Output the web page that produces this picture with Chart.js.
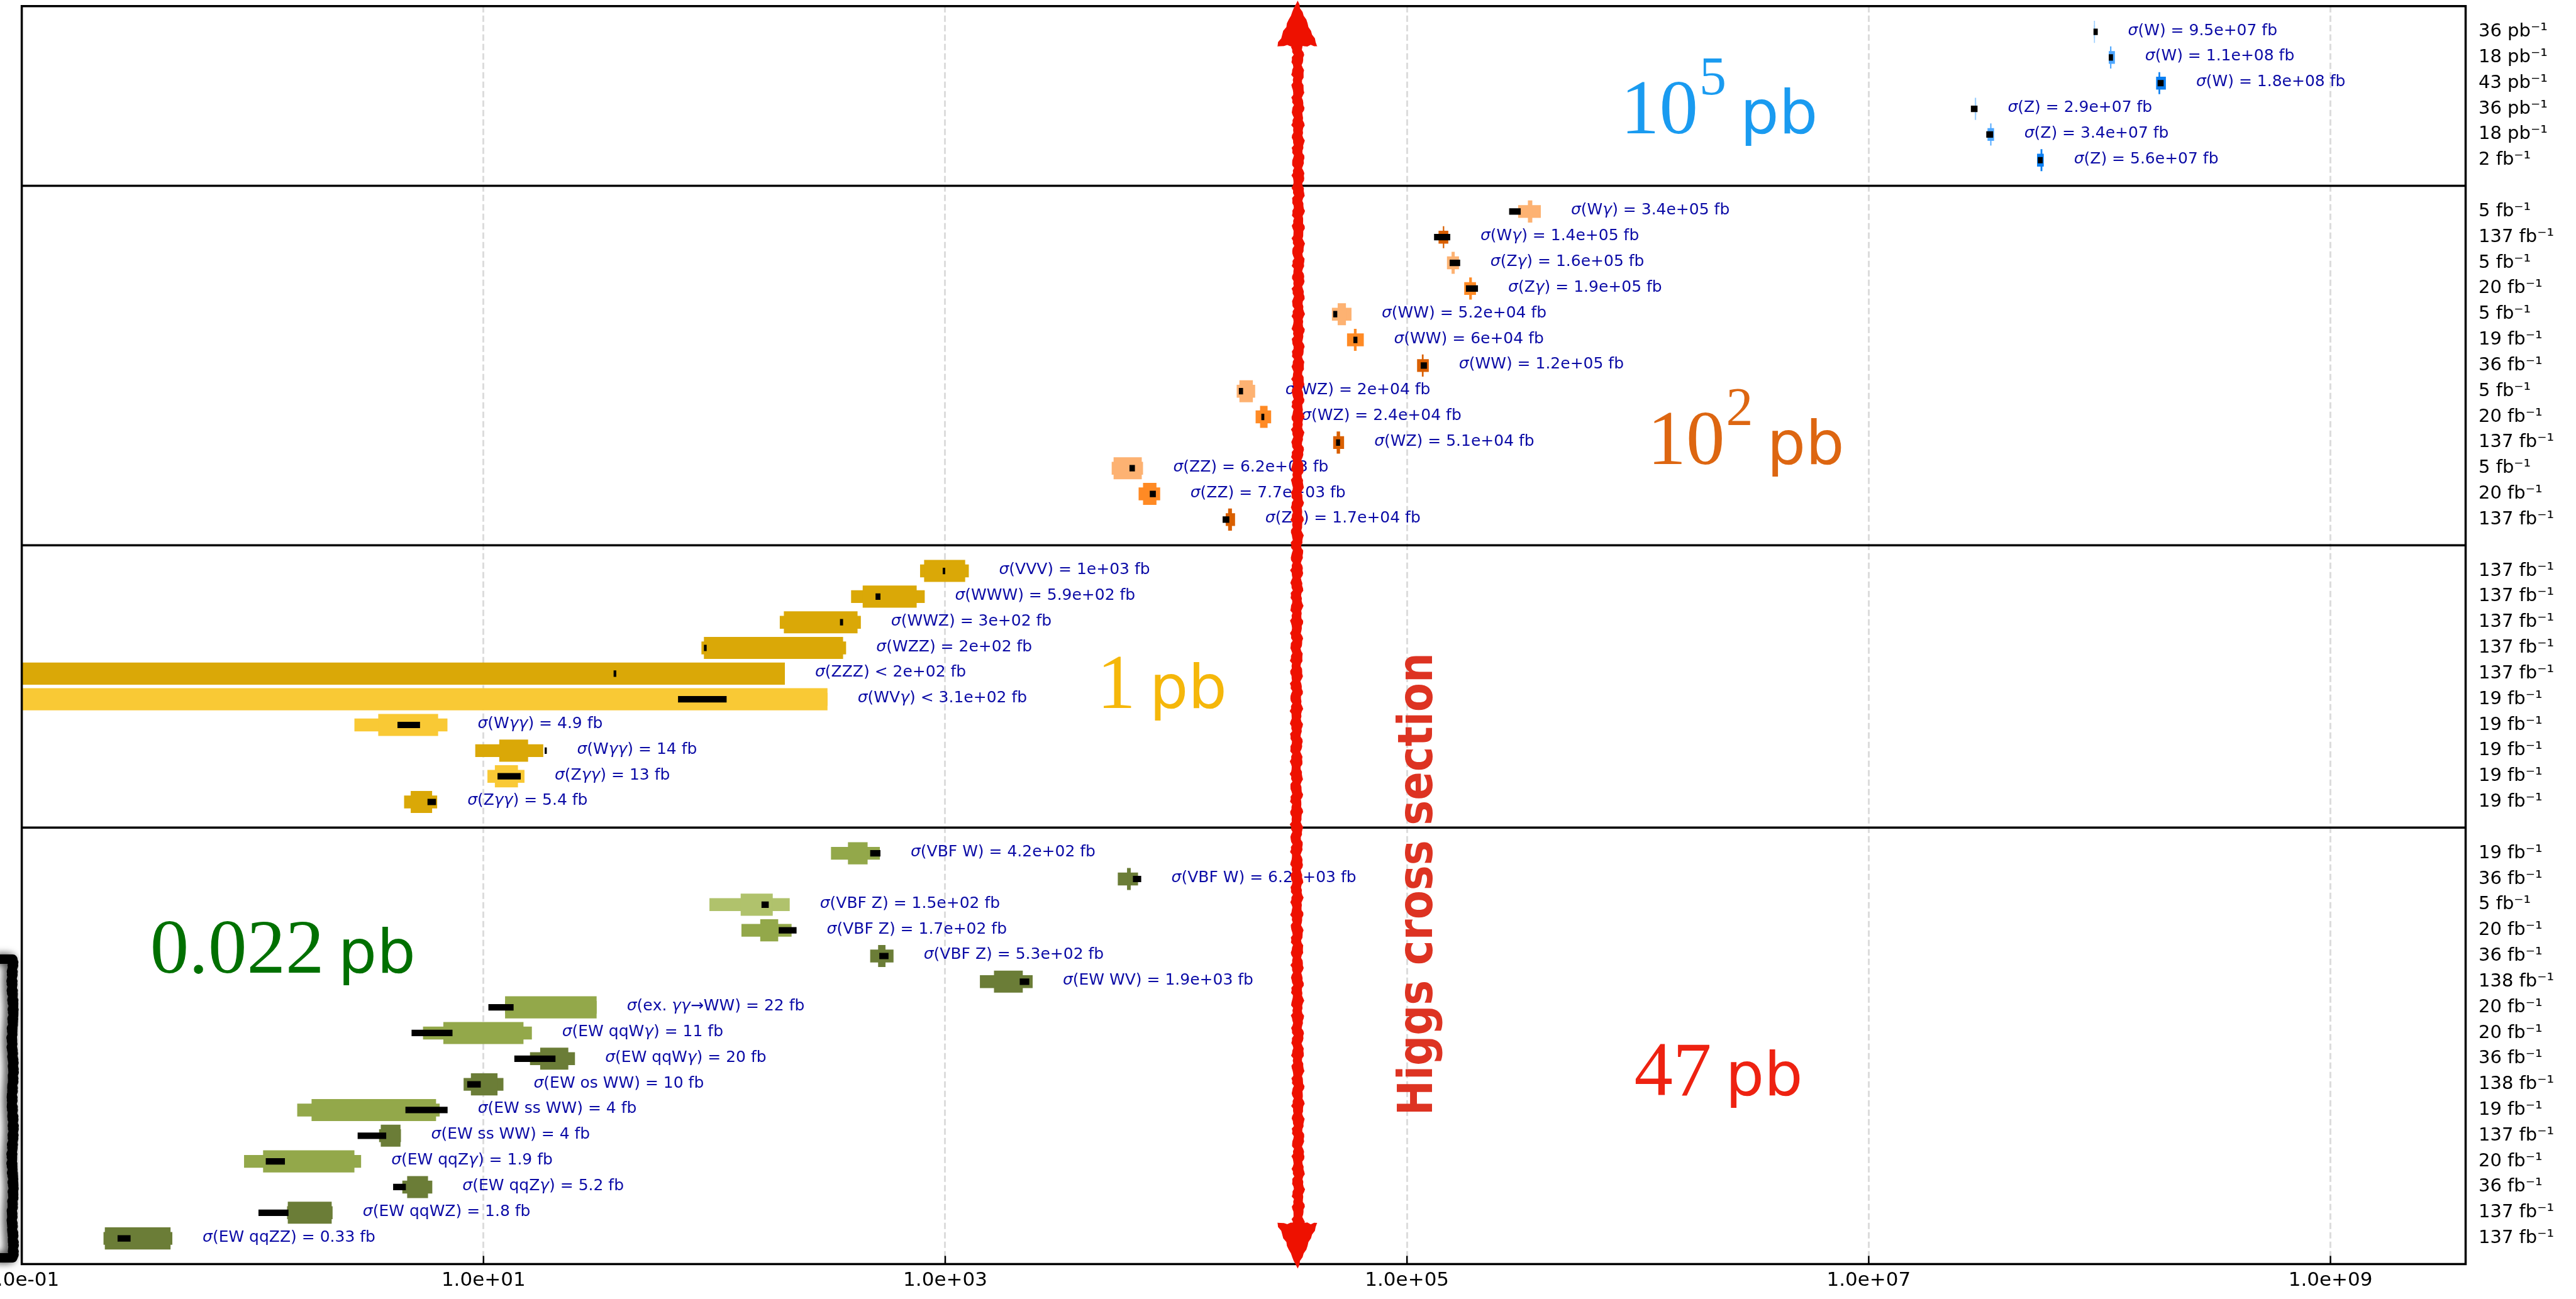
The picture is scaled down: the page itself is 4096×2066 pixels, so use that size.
<!DOCTYPE html>
<html>
<head>
<meta charset="utf-8">
<script src="https://cdn.jsdelivr.net/npm/chart.js@4.4.1/dist/chart.umd.min.js"></script>
<style>
  html, body { margin: 0; padding: 0; background: #fff; }
  canvas { display: block; }
</style>
</head>
<body>
<canvas id="xsecChart" width="4096" height="2066"></canvas>
<script>
// Rows top to bottom, grouped in panels (W/Z, dibosons, tribosons, VBF/VBS)
const panelSizes = [6, 13, 10, 16];

const processes = [
  "W", "W", "W", "Z", "Z", "Z",
  "Wγ", "Wγ", "Zγ", "Zγ", "WW", "WW", "WW", "WZ", "WZ", "WZ", "ZZ", "ZZ", "ZZ",
  "VVV", "WWW", "WWZ", "WZZ", "ZZZ", "WVγ", "Wγγ", "Wγγ", "Zγγ", "Zγγ",
  "VBF W", "VBF W", "VBF Z", "VBF Z", "VBF Z", "EW WV", "ex. γγ→WW", "EW qqWγ", "EW qqWγ",
  "EW os WW", "EW ss WW", "EW ss WW", "EW qqZγ", "EW qqZγ", "EW qqWZ", "EW qqZZ"
];

// quoted cross sections in fb
const xsecValues = [
  9.5e7, 1.1e8, 1.8e8, 2.9e7, 3.4e7, 5.6e7,
  3.4e5, 1.4e5, 1.6e5, 1.9e5, 5.2e4, 6e4, 1.2e5, 2e4, 2.4e4, 5.1e4, 6.2e3, 7.7e3, 1.7e4,
  1e3, 590, 300, 200, 200, 310, 4.9, 14, 13, 5.4,
  420, 6200, 150, 170, 530, 1900, 22, 11, 20, 10, 4, 4, 1.9, 5.2, 1.8, 0.33
];

const upperLimit = [
  false, false, false, false, false, false,
  false, false, false, false, false, false, false, false, false, false, false, false, false,
  false, false, false, false, true, true, false, false, false, false,
  false, false, false, false, false, false, false, false, false, false, false, false, false, false, false, false
];

const lumiLabels = [
  "36 pb⁻¹", "18 pb⁻¹", "43 pb⁻¹", "36 pb⁻¹", "18 pb⁻¹", "2 fb⁻¹",
  "5 fb⁻¹", "137 fb⁻¹", "5 fb⁻¹", "20 fb⁻¹", "5 fb⁻¹", "19 fb⁻¹", "36 fb⁻¹", "5 fb⁻¹", "20 fb⁻¹",
  "137 fb⁻¹", "5 fb⁻¹", "20 fb⁻¹", "137 fb⁻¹",
  "137 fb⁻¹", "137 fb⁻¹", "137 fb⁻¹", "137 fb⁻¹", "137 fb⁻¹", "19 fb⁻¹", "19 fb⁻¹", "19 fb⁻¹", "19 fb⁻¹", "19 fb⁻¹",
  "19 fb⁻¹", "36 fb⁻¹", "5 fb⁻¹", "20 fb⁻¹", "36 fb⁻¹", "138 fb⁻¹", "20 fb⁻¹", "20 fb⁻¹", "36 fb⁻¹",
  "138 fb⁻¹", "19 fb⁻¹", "137 fb⁻¹", "20 fb⁻¹", "36 fb⁻¹", "137 fb⁻¹", "137 fb⁻¹"
];

// 0 = light, 1 = medium, 2 = dark shade of the panel colour
const shade = [
  0, 1, 2, 0, 1, 2,
  0, 2, 0, 1, 0, 1, 2, 0, 1, 2, 0, 1, 2,
  2, 2, 2, 2, 2, 0, 0, 2, 0, 2,
  1, 2, 0, 1, 2, 2, 1, 1, 2, 2, 1, 2, 1, 2, 2, 2
];

// tall, narrow box [lo, hi] in fb
const innerBand = [
  [9.45e7, 9.55e7], [1.11e8, 1.125e8], [1.80e8, 1.83e8], [2.88e7, 2.92e7], [3.36e7, 3.40e7], [5.55e7, 5.65e7],
  [3.34e5, 3.49e5], [1.43e5, 1.45e5], [1.56e5, 1.61e5], [1.86e5, 1.91e5], [5.01e4, 5.44e4], [5.89e4, 6.05e4],
  [1.16e5, 1.18e5], [1.88e4, 2.15e4], [2.31e4, 2.49e4], [4.96e4, 5.13e4], [5.36e3, 7.10e3], [7.19e3, 8.22e3], [1.68e4, 1.745e4],
  [810, 1220], [439, 752], [200, 417], [90.1, 361], [0.1, 202], [0.1, 309], [3.50, 6.36], [11.7, 15.6], [11.2, 14.1], [4.84, 5.99],
  [379, 461], [6130, 6360], [130, 179], [158, 189], [512, 551], [1626, 2167], [12.4, 30.9], [6.70, 14.9], [17.6, 23.3],
  [8.82, 11.5], [1.80, 6.23], [3.59, 4.37], [1.11, 2.76], [4.67, 5.75], [1.42, 2.20], [0.229, 0.441]
];

// thin, wide bar [lo, hi] in fb
const outerBand = [
  [9.45e7, 9.55e7], [1.096e8, 1.165e8], [1.757e8, 1.937e8], [2.88e7, 2.92e7], [3.27e7, 3.49e7], [5.36e7, 5.73e7],
  [3.03e5, 3.80e5], [1.37e5, 1.51e5], [1.49e5, 1.68e5], [1.77e5, 1.99e5], [4.73e4, 5.75e4], [5.50e4, 6.50e4],
  [1.106e5, 1.243e5], [1.83e4, 2.20e4], [2.21e4, 2.58e4], [4.79e4, 5.34e4], [5.26e3, 7.19e3], [6.88e3, 8.53e3], [1.64e4, 1.80e4],
  [778, 1265], [391, 815], [192, 431], [87.9, 372], [0.1, 202], [0.1, 309], [2.76, 6.98], [9.21, 18.15], [10.4, 15.05], [4.53, 6.30],
  [320, 521], [5590, 6840], [95.2, 212], [131, 216], [473, 597], [1413, 2391], [12.4, 30.9], [5.47, 16.2], [15.9, 24.9],
  [8.2, 12.2], [1.56, 6.46], [3.53, 4.39], [0.918, 2.95], [4.45, 6.0], [1.41, 2.22], [0.226, 0.449]
];

// black marker [lo, hi] in fb
const prediction = [
  [9.41e7, 9.82e7], [1.096e8, 1.143e8], [1.784e8, 1.894e8], [2.77e7, 2.96e7], [3.23e7, 3.46e7], [5.40e7, 5.67e7],
  [2.77e5, 3.11e5], [1.31e5, 1.54e5], [1.53e5, 1.70e5], [1.80e5, 2.03e5], [4.79e4, 4.99e4], [5.86e4, 6.10e4],
  [1.147e5, 1.22e5], [1.87e4, 1.95e4], [2.34e4, 2.41e4], [4.93e4, 5.13e4], [6.28e3, 6.63e3], [7.69e3, 8.17e3], [1.59e4, 1.70e4],
  [975, 1000], [499, 524], [350, 361], [90.1, 92.6], [36.6, 37.6], [69.6, 113], [4.24, 5.31], [18.4, 18.8], [11.5, 14.5], [5.72, 6.23],
  [473, 524], [6500, 7060], [160, 172], [190, 227], [518, 568], [2102, 2312], [10.5, 13.5], [4.88, 7.34], [13.6, 20.5],
  [8.5, 9.73], [4.59, 6.99], [2.85, 3.79], [1.14, 1.38], [4.06, 4.61], [1.06, 1.43], [0.260, 0.296]
];

const panelTotalBase = ["10", "10", "1", "0.022"];
const panelTotalExp = ["5", "2", "", ""];
const higgsTotal = "47";
const higgsXsec = 3.35e4;

const xTickValues = [1e-1, 1e1, 1e3, 1e5, 1e7, 1e9];
const X_MIN = 0.1;
const X_MAX = 3.85e9;

const palettes = [
  ["#9dcfff", "#4ea7ff", "#0b7ff2"],
  ["#fdb272", "#ff8a24", "#d95f00"],
  ["#f9c935", "#f9c935", "#daa807"],
  ["#b0c26c", "#93a84a", "#6b7d37"]
];
const totalColors = ["#1a9bf0", "#dd6611", "#f5b70a", "#007000"];

// slot positions: each panel gets n rows plus half a slot of padding top and bottom
const rowSlots = [];
const rowPanel = [];
const separators = [];
let slotCursor = 0;
panelSizes.forEach((n, p) => {
  for (let i = 1; i <= n; i++) { rowSlots.push(slotCursor + i); rowPanel.push(p); }
  slotCursor += n + 1;
  separators.push(slotCursor);
});
const SLOT_MAX = slotCursor;
const rowColors = shade.map((s, i) => palettes[rowPanel[i]][s]);

const toBars = band => band.map((b, i) => ({ x: b, y: rowSlots[i] }));

function fmtG(v) {
  let e = Math.floor(Math.log10(Math.abs(v)));
  let m = Math.round(v / Math.pow(10, e) * 10) / 10;
  if (m >= 10) { m /= 10; e += 1; }
  if (e < -4 || e >= 2) {
    return m.toFixed(1).replace(/\.0$/, "") + "e" + (e < 0 ? "-" : "+") + String(Math.abs(e)).padStart(2, "0");
  }
  let s = v.toFixed(Math.max(0, 1 - e));
  if (s.includes(".")) s = s.replace(/0+$/, "").replace(/\.$/, "");
  return s;
}

function fmtTick(v) {
  const e = Math.round(Math.log10(v));
  return (v / Math.pow(10, e)).toFixed(1) + "e" + (e < 0 ? "-" : "+") + String(Math.abs(e)).padStart(2, "0");
}

// draw a string, greek letters in oblique like mathtext
function drawMixed(ctx, str, x, y, size) {
  let cx = x;
  for (const ch of str) {
    ctx.font = (/[σγ]/.test(ch) ? "italic " : "") + size + "px 'DejaVu Sans'";
    ctx.fillText(ch, cx, y);
    cx += ctx.measureText(ch).width;
  }
}

function drawTotal(ctx, x, y, base, exp, color) {
  ctx.fillStyle = color;
  ctx.textAlign = "left";
  ctx.textBaseline = "alphabetic";
  ctx.font = "123px 'Liberation Serif'";
  ctx.fillText(base, x, y);
  let cx = x + ctx.measureText(base).width;
  if (exp) {
    ctx.font = "86px 'Liberation Serif'";
    ctx.fillText(exp, cx + 2, y - 62);
    cx += 2 + ctx.measureText(exp).width;
  }
  ctx.font = "97px 'DejaVu Sans'";
  ctx.fillText("pb", cx + 22, y);
}

const wob = (t, a, b) => Math.sin(t * a) * 0.6 + Math.sin(t * b + 1.3) * 0.4;

function drawRoughArrow(ctx, x, yTop, yBot) {
  const head = 72, halfHead = 32, half = 8.5;
  ctx.save();
  ctx.fillStyle = "#ee1100";
  ctx.beginPath();
  const y0 = yTop + head - 6, y1 = yBot - head + 6;
  ctx.moveTo(x - half, y0);
  for (let y = y0; y <= y1; y += 4) ctx.lineTo(x - half + 2.4 * wob(y, 0.31, 0.87) + 1.5 * Math.sin(y * 0.004), y);
  for (let y = y1; y >= y0; y -= 4) ctx.lineTo(x + half + 2.4 * wob(y, 0.23, 1.07) + 1.5 * Math.sin(y * 0.004), y);
  ctx.closePath();
  ctx.fill();
  [[yTop, 1], [yBot, -1]].forEach(([tip, dir]) => {
    ctx.beginPath();
    ctx.moveTo(x, tip);
    for (let k = 0; k <= 12; k++) {
      const t = k / 12;
      ctx.lineTo(x - halfHead * t + 1.5 * wob(k, 2.1, 3.7), tip + dir * head * t);
    }
    for (let k = 0; k <= 12; k++) {
      const t = k / 12;
      ctx.lineTo(x - halfHead + 2 * halfHead * t, tip + dir * (head + 2 * wob(k, 1.7, 2.9)));
    }
    for (let k = 12; k >= 0; k--) {
      const t = k / 12;
      ctx.lineTo(x + halfHead * t + 1.5 * wob(k, 2.6, 1.3), tip + dir * head * t);
    }
    ctx.closePath();
    ctx.fill();
  });
  ctx.restore();
}

function drawBracket(ctx, x, y0, y1) {
  ctx.save();
  ctx.strokeStyle = "#000";
  ctx.lineJoin = "round";
  ctx.shadowColor = "rgba(0,0,0,0.45)";
  ctx.shadowBlur = 14;
  ctx.shadowOffsetX = -5;
  [[15, 0], [9, 3], [8, -3]].forEach(([lw, off]) => {
    ctx.lineWidth = lw;
    ctx.beginPath();
    ctx.moveTo(-4, y0 + off * 0.5);
    ctx.lineTo(x + off, y0 + off * 0.5);
    for (let y = y0; y <= y1; y += 5) ctx.lineTo(x + off + 2.5 * wob(y + off * 7, 0.41, 1.19), y);
    ctx.lineTo(-4, y1 - off * 0.5);
    ctx.stroke();
  });
  ctx.restore();
}

const decorations = {
  id: "decorations",
  afterDatasetsDraw(chart) {
    const { ctx, chartArea: a, scales: { x, y } } = chart;
    ctx.save();

    // frame and panel separators
    ctx.strokeStyle = "#000";
    ctx.lineWidth = 3.5;
    ctx.strokeRect(a.left, a.top, a.right - a.left, a.bottom - a.top);
    separators.slice(0, -1).forEach(s => {
      const py = y.getPixelForValue(s);
      ctx.beginPath(); ctx.moveTo(a.left, py); ctx.lineTo(a.right, py); ctx.stroke();
    });
    // inward ticks on the bottom axis
    ctx.lineWidth = 2.5;
    xTickValues.forEach(v => {
      const px = x.getPixelForValue(v);
      ctx.beginPath(); ctx.moveTo(px, a.bottom); ctx.lineTo(px, a.bottom - 13); ctx.stroke();
    });

    // row annotations
    ctx.fillStyle = "#0b0ba6";
    ctx.textAlign = "left";
    ctx.textBaseline = "alphabetic";
    processes.forEach((p, i) => {
      const hi = Math.max(innerBand[i][1], outerBand[i][1], prediction[i][1]);
      const px = x.getPixelForValue(hi) + 48;
      const py = y.getPixelForValue(rowSlots[i]) + 5;
      const txt = "σ(" + p + ") " + (upperLimit[i] ? "<" : "=") + " " + fmtG(xsecValues[i]) + " fb";
      drawMixed(ctx, txt, px, py, 25);
    });

    // panel totals
    const totalPos = [[8.43e5, 4.96], [1.10e6, 17.83], [4540, 27.35], [0.36, 37.64]];
    panelTotalBase.forEach((b, p) => {
      drawTotal(ctx, x.getPixelForValue(totalPos[p][0]), y.getPixelForValue(totalPos[p][1]),
        b, panelTotalExp[p], totalColors[p]);
    });
    drawTotal(ctx, x.getPixelForValue(9.64e5), y.getPixelForValue(42.43), higgsTotal, "", "#ee2211");

    // Higgs arrow and label
    const hx = x.getPixelForValue(higgsXsec);
    drawRoughArrow(ctx, hx, 1, a.bottom + 7);
    ctx.save();
    ctx.translate(hx + 214, y.getPixelForValue(34.2));
    ctx.rotate(-Math.PI / 2);
    ctx.font = "bold 77px 'DejaVu Sans'";
    const label = "Higgs cross section";
    const w = ctx.measureText(label).width;
    ctx.scale(736 / w, 1);
    ctx.fillStyle = "#dd3322";
    ctx.textAlign = "center";
    ctx.fillText(label, 0, 0);
    ctx.restore();

    drawBracket(ctx, 20, a.bottom - 485, a.bottom - 10);
    ctx.restore();
  }
};

Chart.defaults.font.family = "'DejaVu Sans'";

new Chart(document.getElementById("xsecChart"), {
  type: "bar",
  data: {
    datasets: [
      { label: "prediction", data: toBars(prediction), backgroundColor: "#000000", barPercentage: 0.25 },
      { label: "inner", data: toBars(innerBand), backgroundColor: rowColors, barPercentage: 0.86 },
      { label: "outer", data: toBars(outerBand), backgroundColor: rowColors, barPercentage: 0.5 }
    ]
  },
  options: {
    indexAxis: "y",
    responsive: false,
    animation: false,
    grouped: false,
    categoryPercentage: 1,
    inflateAmount: 0,
    borderWidth: 0,
    layout: { autoPadding: false, padding: { left: 34.6, top: 9.75, right: 0, bottom: 0 } },
    plugins: { legend: { display: false }, tooltip: { enabled: false } },
    scales: {
      x: {
        type: "logarithmic",
        position: "bottom",
        offset: false,
        min: X_MIN,
        max: X_MAX,
        afterBuildTicks: s => { s.ticks = xTickValues.map(v => ({ value: v })); },
        afterFit: s => { s.height = 55.55; s.paddingLeft = 0; s.paddingRight = 0; },
        ticks: {
          autoSkip: false,
          maxRotation: 0,
          padding: 8,
          color: "#000",
          font: { size: 31 },
          callback: v => fmtTick(v)
        },
        grid: { color: "#dcdcdc", lineWidth: 3, drawTicks: false, offset: false },
        border: { display: false, dash: [10, 5] }
      },
      y: {
        type: "linear",
        position: "right",
        offset: false,
        reverse: true,
        min: 0,
        max: SLOT_MAX,
        afterBuildTicks: s => { s.ticks = rowSlots.map(v => ({ value: v })); },
        afterFit: s => { s.width = 175.5; s.paddingTop = 0; s.paddingBottom = 0; },
        ticks: {
          autoSkip: false,
          padding: 12.5,
          color: "#000",
          font: { size: 29 },
          callback: (v, i) => lumiLabels[i]
        },
        grid: { display: false, offset: false },
        border: { display: false }
      }
    }
  },
  plugins: [decorations]
});
</script>
</body>
</html>
